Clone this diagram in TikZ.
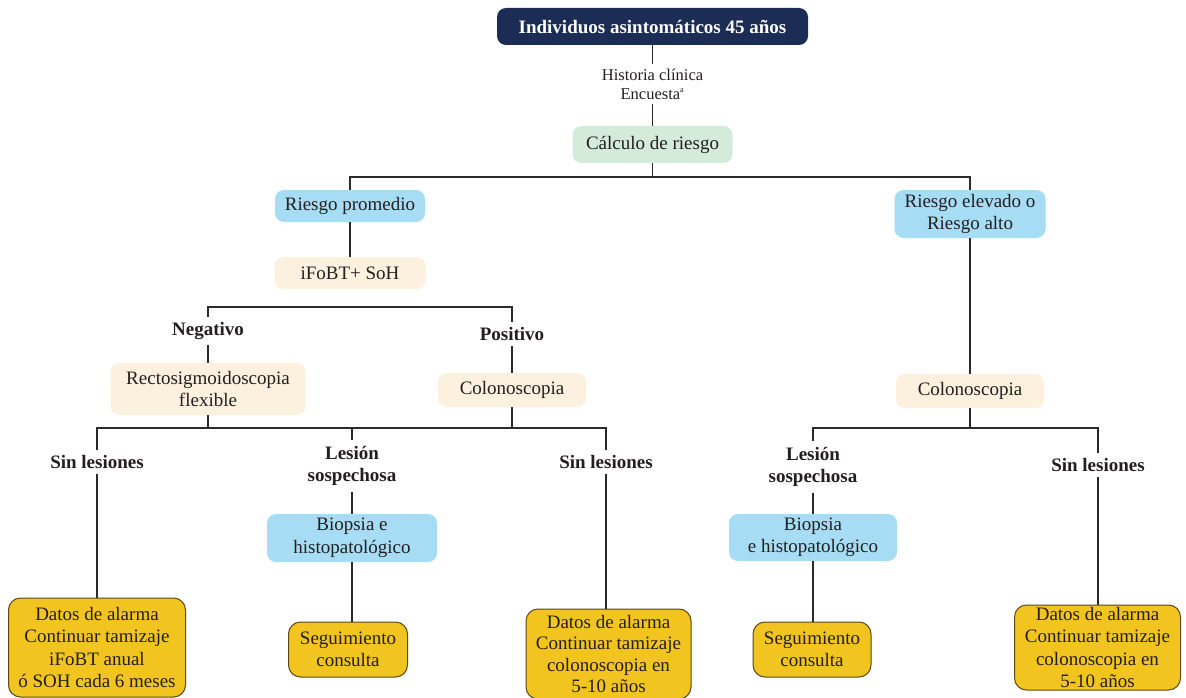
\documentclass[tikz,border=0pt]{standalone}
\usepackage{fontspec}
\setmainfont{Liberation Serif}
\definecolor{navy}{HTML}{1C2D55}
\definecolor{mint}{HTML}{D4EBDA}
\definecolor{sky}{HTML}{A7DCF5}
\definecolor{cream}{HTML}{FBF1DE}
\definecolor{gold}{HTML}{F2C41F}
\definecolor{goldline}{HTML}{5A4816}
\definecolor{ink}{HTML}{231F20}
\definecolor{wire}{HTML}{2A2A2A}
\begin{document}
\begin{tikzpicture}[x=1pt, y=-1pt,
        box/.style={rounded corners=9pt, align=center, inner sep=2pt, text=ink,
            font=\fontsize{19}{22.5}\selectfont},
        head_box/.style={box, fill=navy, text=white, font=\fontsize{19}{22.5}\selectfont\bfseries},
        mint_box/.style={box, fill=mint},
        sky_box/.style={box, fill=sky},
        cream_box/.style={box, fill=cream},
        gold_box/.style={box, rounded corners=12pt, fill=gold, draw=goldline, line width=1pt},
        branch_label/.style={align=center, inner sep=5pt, text=ink,
            font=\fontsize{19}{22}\selectfont\bfseries},
        note_label/.style={align=center, inner sep=4pt, text=ink,
            font=\fontsize{16.5}{19}\selectfont},
        wire_line/.style={line width=1.7pt, draw=wire}
    ]
    \useasboundingbox[fill=white] (0,0) rectangle (1186,698);
    \clip (0,0) rectangle (1186,698);

    % Inicio
    \node[head_box, minimum width=311pt, minimum height=37pt] (top) at (652.5,26.5) {Individuos asintomáticos 45 años};
    \node[note_label] (hist) at (652.5,84) {Historia clínica\\Encuesta$^{\scriptscriptstyle\mathrm{a}}$};
    \node[mint_box, minimum width=160pt, minimum height=37pt] (calc) at (652.5,144.5) {Cálculo de riesgo};

    \draw[wire_line] (top) -- (hist);
    \draw[wire_line] (hist) -- (calc);

    % Riesgo
    \node[sky_box, minimum width=150pt, minimum height=32pt] (prom) at (350,206) {Riesgo promedio};
    \node[sky_box, minimum width=151pt, minimum height=48pt] (elev) at (970,214) {Riesgo elevado o\\Riesgo alto};
    \coordinate (j1) at (652.5,177);

    \draw[wire_line] (calc) -- (j1);
    \draw[wire_line] (prom) |- (j1) -| (elev);

    % Rama riesgo promedio
    \node[cream_box, minimum width=151pt, minimum height=32pt] (ifobt) at (350,273) {iFoBT+ SoH};
    \node[branch_label] (neg) at (208,331) {Negativo};
    \node[branch_label] (pos) at (512,334) {Positivo};
    \node[cream_box, minimum width=195pt, minimum height=52pt] (recto) at (208,389) {Rectosigmoidoscopia\\flexible};
    \node[cream_box, minimum width=148pt, minimum height=34pt] (colA) at (512,390) {Colonoscopia};
    \coordinate (j2) at (360,307);

    \draw[wire_line] (prom) -- (ifobt);
    \draw[wire_line] (neg) |- (j2) -| (pos);
    \draw[wire_line] (neg) -- (recto);
    \draw[wire_line] (pos) -- (colA);

    % Resultados izquierda
    \node[branch_label] (sinA) at (97,462) {Sin lesiones};
    \node[branch_label, inner sep=6pt] (lesA) at (352,466) {Lesión\\sospechosa};
    \node[branch_label] (sinB) at (606,462) {Sin lesiones};
    \coordinate (j3) at (352,428);

    \draw[wire_line] (recto) -- (recto |- j3);
    \draw[wire_line] (colA) -- (colA |- j3);
    \draw[wire_line] (sinA) |- (j3) -| (sinB);
    \draw[wire_line] (j3) -- (lesA);

    \node[sky_box, minimum width=170pt, minimum height=48pt] (bioA) at (352,538) {Biopsia e\\histopatológico};
    \node[gold_box, minimum width=119pt, minimum height=55pt] (segA) at (348,649.5) {Seguimiento\\consulta};
    \node[gold_box, minimum width=177pt, minimum height=99pt] (datA) at (97,647.5) {Datos de alarma\\Continuar tamizaje\\iFoBT anual\\ó SOH cada 6 meses};
    \node[gold_box, minimum width=165pt, minimum height=90pt, font=\fontsize{19}{21.5}\selectfont] (datB) at (608.5,654) {Datos de alarma\\Continuar tamizaje\\colonoscopia en\\5-10 años};

    \draw[wire_line] (lesA) -- (bioA);
    \draw[wire_line] (bioA) -- (bioA |- segA.north);
    \draw[wire_line] (sinA) -- (sinA |- datA.north);
    \draw[wire_line] (sinB) -- (sinB |- datB.north);

    % Rama riesgo elevado
    \node[cream_box, minimum width=148pt, minimum height=34pt] (colB) at (970,391) {Colonoscopia};
    \node[branch_label, inner sep=6pt] (lesB) at (813,467) {Lesión\\sospechosa};
    \node[branch_label] (sinC) at (1098,465) {Sin lesiones};
    \coordinate (j4) at (970,428);

    \draw[wire_line] (elev) -- (colB);
    \draw[wire_line] (colB) -- (j4);
    \draw[wire_line] (lesB) |- (j4) -| (sinC);

    \node[sky_box, minimum width=168pt, minimum height=47pt] (bioB) at (813,537.5) {Biopsia\\e histopatológico};
    \node[gold_box, minimum width=118pt, minimum height=55pt] (segB) at (812,649.5) {Seguimiento\\consulta};
    \node[gold_box, minimum width=166pt, minimum height=85pt] (datC) at (1097.5,647.5) {Datos de alarma\\Continuar tamizaje\\colonoscopia en\\5-10 años};

    \draw[wire_line] (lesB) -- (bioB);
    \draw[wire_line] (bioB) -- (bioB |- segB.north);
    \draw[wire_line] (sinC) -- (sinC |- datC.north);
\end{tikzpicture}
\end{document}
